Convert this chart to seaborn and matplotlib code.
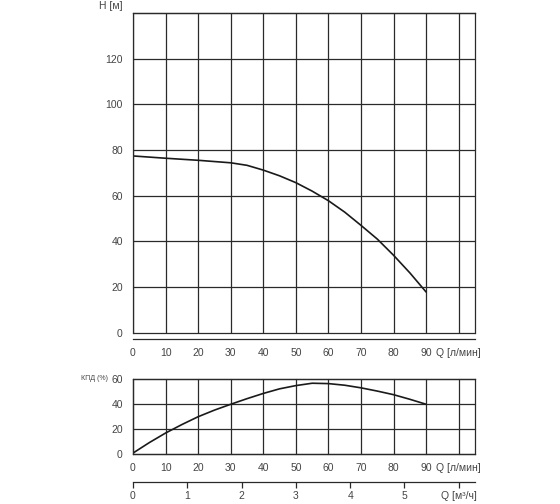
import numpy as np
import pandas as pd
import matplotlib
matplotlib.use("Agg")
import matplotlib.pyplot as plt
import seaborn as sns

# ---- data ----
q_head = [0, 10, 20, 30, 35, 40, 45, 50, 55, 60, 65, 70, 75, 80, 85, 90]
head = [77.4, 76.4, 75.5, 74.4, 73.3, 71.2, 68.7, 65.7, 62.0, 57.8, 52.8, 47.0, 41.0, 33.9, 26.2, 17.8]

q_eff = [0, 5, 10, 15, 20, 25, 30, 35, 40, 45, 50, 55, 60, 65, 70, 75, 80, 85, 90]
eff = [0.5, 8.9, 16.6, 23.4, 29.7, 35.0, 39.7, 44.2, 48.4, 52.1, 54.7, 56.6, 56.3, 55.0, 52.9, 50.3, 47.4, 43.7, 39.7]

q_ticks = [0, 10, 20, 30, 40, 50, 60, 70, 80, 90, 100]
q_labels = ["0", "10", "20", "30", "40", "50", "60", "70", "80", "90", "Q [л/мин]"]
h_ticks = [0, 20, 40, 60, 80, 100, 120, 140]
h_labels = ["0", "20", "40", "60", "80", "100", "120", ""]
e_ticks = [0, 20, 40, 60]
e_labels = ["0", "20", "40", "60"]
m3_ticks = [0, 1, 2, 3, 4, 5, 6]
m3_labels = ["0", "1", "2", "3", "4", "5", "Q [м³/ч]"]

df_h = pd.DataFrame({"Q": q_head, "H": head})
df_e = pd.DataFrame({"Q": q_eff, "E": eff})

sns.set_style("white")
plt.rcParams["font.family"] = ["Liberation Sans", "DejaVu Sans"]

W, H = 560, 504
fig = plt.figure(figsize=(W / 100, H / 100), dpi=100)

def frac(l, t, r, b):
    return [l / W, 1 - b / H, (r - l) / W, (b - t) / H]

ax1 = fig.add_axes(frac(133, 13, 475, 332.7))
ax2 = fig.add_axes(frac(133, 379, 475, 453.7))

line_c = "#1a1a1a"
grid_c = "#2a2a2a"
txt_c = "#444444"
fs = 7.5

sns.lineplot(data=df_h, x="Q", y="H", ax=ax1, color=line_c, linewidth=1.2)
sns.lineplot(data=df_e, x="Q", y="E", ax=ax2, color=line_c, linewidth=1.2)

for ax, yt, yl, ylim in [(ax1, h_ticks, h_labels, (0, 140)), (ax2, e_ticks, e_labels, (0, 60))]:
    ax.set_xlim(0, 105)
    ax.set_ylim(*ylim)
    ax.set_xticks(q_ticks)
    ax.set_xticklabels(q_labels)
    ax.set_yticks(yt)
    ax.set_yticklabels(yl)
    ax.set_xlabel("")
    ax.set_ylabel("")
    ax.grid(True, color=grid_c, linewidth=0.9)
    for gl in ax.get_xgridlines() + ax.get_ygridlines():
        gl.set_clip_on(False)
    for s in ax.spines.values():
        s.set_color(grid_c)
        s.set_linewidth(0.9)
        s.set_visible(True)
    ax.tick_params(axis="both", direction="out", colors=grid_c, labelcolor=txt_c,
                   labelsize=fs, width=0.9)
    ax.tick_params(axis="x", length=4.5, pad=2)
    ax.tick_params(axis="y", length=5.8, pad=1.5)
    ax.set_axisbelow(True)

ax1.spines["bottom"].set_position(("outward", 4.5))

ax1.annotate("H [м]", xy=(0, 1), xycoords="axes fraction", xytext=(-7.3, 5.2),
             textcoords="offset points", ha="right", va="center", fontsize=fs, color=txt_c)
ax2.annotate("КПД (%)", xy=(0, 1), xycoords="axes fraction", xytext=(-18, 0),
             textcoords="offset points", ha="right", va="center", fontsize=5, color=txt_c)

sec = ax2.secondary_xaxis(-(482 - 453.7) / 74.7, functions=(lambda q: np.asarray(q) * 0.06,
                                                          lambda m: np.asarray(m) / 0.06))
sec.set_xticks(m3_ticks)
sec.set_xticklabels(m3_labels)
sec.spines["bottom"].set_color(grid_c)
sec.spines["bottom"].set_linewidth(0.9)
sec.tick_params(axis="x", direction="out", colors=grid_c, labelcolor=txt_c,
                labelsize=fs, length=4.5, width=0.9, pad=2)

fig.savefig("out.png", dpi=100, facecolor="white")
